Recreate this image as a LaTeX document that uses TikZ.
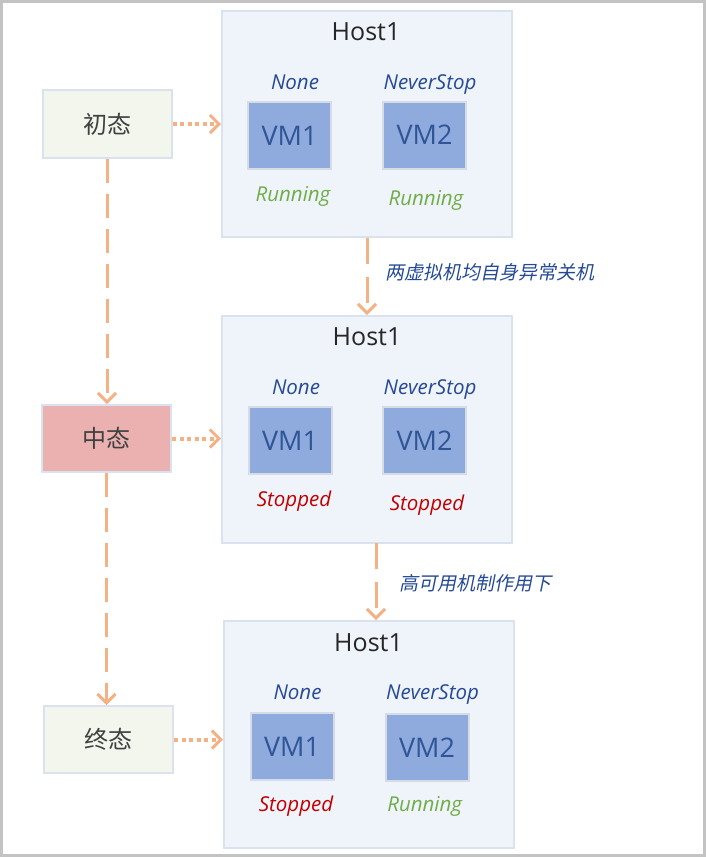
\documentclass[tikz,border=0pt]{standalone}
\usepackage{fontspec}
\setmainfont{Open Sans}
\newfontfamily\cjk{Noto Sans CJK SC}
\newfontfamily\cjkit[FakeSlant=0.2]{Noto Sans CJK SC}
\usetikzlibrary{arrows.meta}
\definecolor{frame}{HTML}{C3C3C3}
\definecolor{hostfill}{HTML}{EFF3FA}
\definecolor{hostline}{HTML}{DAE2EF}
\definecolor{vmfill}{HTML}{8FAADC}
\definecolor{vmline}{HTML}{D6DCE5}
\definecolor{vmtext}{HTML}{2F5597}
\definecolor{lbl}{HTML}{254A94}
\definecolor{runc}{HTML}{70AD47}
\definecolor{stopc}{HTML}{C00000}
\definecolor{arr}{HTML}{F4B183}
\definecolor{greenfill}{HTML}{F2F6EC}
\definecolor{redfill}{HTML}{EBB1B1}
\definecolor{stext}{HTML}{404040}
\tikzset{
  hostbox/.style={draw=hostline, fill=hostfill, line width=2pt, minimum width=290pt, minimum height=226pt, inner sep=0pt},
  vmbox/.style={draw=vmline, fill=vmfill, line width=2pt, minimum width=83pt, minimum height=67pt, inner sep=0pt, text=vmtext, font=\fontsize{27}{30}\selectfont},
  statebox/.style={draw=hostline, line width=2pt, minimum width=129pt, minimum height=68pt, inner sep=0pt, text=stext, font=\cjk\fontsize{24}{27}\selectfont},
  hosttitle/.style={anchor=base, inner sep=0pt, text=black!85, font=\fontsize{25}{28}\selectfont},
  policy/.style={anchor=base, inner sep=0pt, text=lbl, font=\itshape\fontsize{20.5}{22}\selectfont},
  running/.style={anchor=base, inner sep=0pt, text=runc, font=\itshape\fontsize{20.5}{22}\selectfont},
  stopped/.style={anchor=base, inner sep=0pt, text=stopc, font=\itshape\fontsize{20.5}{22}\selectfont},
  steplabel/.style={inner sep=0pt, text=lbl, font=\cjkit\fontsize{19}{21}\selectfont},
  chev/.style={-{Straight Barb[length=9pt,width=18pt,line width=3pt]}},
  dotarrow/.style={draw=arr, line width=4pt, dash pattern=on 4pt off 3.5pt, chev},
  dasharrow/.style={draw=arr, line width=3pt, dash pattern=on 24pt off 11pt, chev},
}
\begin{document}
\begin{tikzpicture}[x=1pt,y=-1pt]
\useasboundingbox (0,0) rectangle (706,857);
\fill[white] (0,0) rectangle (706,857);
\draw[frame, line width=3pt] (1.5,1.5) rectangle (704.5,855.5);

% hosts
\node[hostbox] (h1) at (367,124) {};
\node[hostbox, minimum height=227pt] (h2) at (367,429.5) {};
\node[hostbox, minimum height=227pt] (h3) at (369,734.5) {};

% host 1
\node[hosttitle] (t1) at (366,40.7) {Host1};
\node[policy] (p11) at (295,89.3) {None};
\node[policy] (p12) at (430,89.3) {NeverStop};
\node[vmbox] (v11) at (289.5,135.5) {VM1};
\node[vmbox] (v12) at (424.5,135) {VM2};
\node[running] (s11) at (293,201.7) {Running};
\node[running] (s12) at (426,205.7) {Running};

% host 2
\node[hosttitle] (t2) at (367,345.7) {Host1};
\node[policy] (p21) at (296,394.3) {None};
\node[policy] (p22) at (430,394.3) {NeverStop};
\node[vmbox] (v21) at (290,440.5) {VM1};
\node[vmbox] (v22) at (424.5,440.5) {VM2};
\node[stopped] (s21) at (294,506.5) {Stopped};
\node[stopped] (s22) at (427,510) {Stopped};

% host 3
\node[hosttitle] (t3) at (368.5,651.6) {Host1};
\node[policy] (p31) at (297.5,699.5) {None};
\node[policy] (p32) at (432.5,699.5) {NeverStop};
\node[vmbox] (v31) at (292,746.5) {VM1};
\node[vmbox] (v32) at (427,747.5) {VM2};
\node[stopped] (s31) at (296,811.7) {Stopped};
\node[running] (s32) at (424.7,811.7) {Running};

% state boxes
\node[statebox, fill=greenfill] (a) at (107,124) {初态};
\node[statebox, fill=redfill, minimum height=67pt] (b) at (106.5,438.5) {中态};
\node[statebox, fill=greenfill, minimum height=67pt] (c) at (108.5,739.5) {终态};

% dotted arrows
\draw[dotarrow] (a.east) -- (a.east -| h1.west);
\draw[dotarrow] (b.east) -- (b.east -| h2.west);
\draw[dotarrow] (c.east) -- (c.east -| h3.west);

% vertical dashed arrows
\draw[dasharrow] (a.south) -- (a.south |- b.north);
\draw[dasharrow] (b.south) -- (b.south |- c.north);

% host to host arrows
\draw[dasharrow, dash pattern=on 26pt off 13pt] (h1.south) -- (h2.north);
\coordinate (q2) at (376,543);
\draw[dasharrow, dash pattern=on 26pt off 13pt] (q2) -- (q2 |- h3.north);

\node[steplabel] (l1) at (490,272) {两虚拟机均自身异常关机};
\node[steplabel] (l2) at (475,583) {高可用机制作用下};
\end{tikzpicture}
\end{document}
